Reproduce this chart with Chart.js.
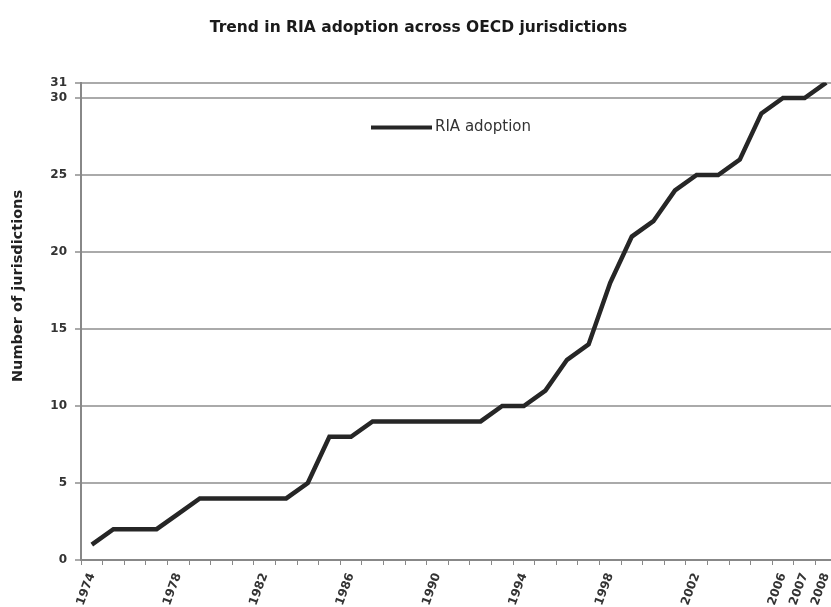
<!DOCTYPE html>
<html>
<head>
<meta charset="utf-8">
<script src="https://cdn.jsdelivr.net/npm/chart.js@4"></script>
<style>
  html, body { margin: 0; padding: 0; background: #fff; overflow: hidden; }
  /* the original picture is cut off on the right, so the canvas is a bit wider than the window */
  #wrap { width: 831px; height: 607px; overflow: hidden; }
</style>
</head>
<body>
<div id="wrap"><canvas id="lineChart" width="837" height="607"></canvas></div>
<script>
// Years on the x axis
var years = [1974, 1975, 1976, 1977, 1978, 1979, 1980, 1981, 1982, 1983,
             1984, 1985, 1986, 1987, 1988, 1989, 1990, 1991, 1992, 1993,
             1994, 1995, 1996, 1997, 1998, 1999, 2000, 2001, 2002, 2003,
             2004, 2005, 2006, 2007, 2008];

// Number of jurisdictions with RIA
var riaAdoption = [1, 2, 2, 2, 3, 4, 4, 4, 4, 4,
                   5, 8, 8, 9, 9, 9, 9, 9, 9, 10,
                   10, 11, 13, 14, 18, 21, 22, 24, 25, 25,
                   26, 29, 30, 30, 31];

// Only these years get a label
var shownYears = [1974, 1978, 1982, 1986, 1990, 1994, 1998, 2002, 2006, 2007, 2008];
var yTicks = [0, 5, 10, 15, 20, 25, 30, 31];

var yTitle = 'Number of jurisdictions';

// legend sits inside the plot area, y title is drawn by hand
var extras = {
    id: 'extras',
    afterDraw: function (chart) {
        var ctx = chart.ctx;
        var ds = chart.data.datasets[0];
        var a = chart.chartArea;
        ctx.save();
        // legend
        ctx.strokeStyle = ds.borderColor;
        ctx.lineWidth = 4;
        ctx.beginPath();
        ctx.moveTo(a.left + 290, a.top + 45);
        ctx.lineTo(a.left + 351, a.top + 45);
        ctx.stroke();
        ctx.fillStyle = '#333';
        ctx.font = '15px "DejaVu Sans"';
        ctx.textBaseline = 'middle';
        ctx.fillText(ds.label, a.left + 354, a.top + 45);
        // y title
        ctx.translate(18, 286);
        ctx.rotate(-Math.PI / 2);
        ctx.textAlign = 'center';
        ctx.font = 'bold 14.5px "DejaVu Sans"';
        ctx.fillStyle = '#222';
        ctx.fillText(yTitle, 0, 0);
        ctx.restore();
    }
};

var ctx = document.getElementById('lineChart').getContext('2d');

new Chart(ctx, {
    type: 'line',
    data: {
        labels: years,
        datasets: [{
            label: 'RIA adoption',
            data: riaAdoption,
            borderColor: '#262626',
            borderWidth: 4.5,
            pointRadius: 0,
            tension: 0,
            fill: false
        }]
    },
    options: {
        responsive: false,
        animation: false,
        layout: { padding: 0 },
        plugins: {
            legend: { display: false },
            tooltip: { enabled: false },
            title: {
                display: true,
                text: 'Trend in RIA adoption across OECD jurisdictions',
                color: '#1a1a1a',
                font: { family: 'DejaVu Sans', size: 15.5, weight: 'bold' },
                padding: { top: 19, bottom: 45 }
            }
        },
        scales: {
            x: {
                offset: true,
                afterFit: function (scale) {
                    scale.height = 47;
                    scale.paddingRight = 0;
                    scale.paddingLeft = 0;
                },
                border: { color: '#888', width: 2 },
                grid: {
                    offset: true,
                    drawOnChartArea: false,
                    tickLength: 5,
                    color: '#888',
                    lineWidth: 1
                },
                ticks: {
                    autoSkip: false,
                    minRotation: 70,
                    maxRotation: 70,
                    padding: 6,
                    color: '#333',
                    font: { family: 'DejaVu Sans', size: 12, weight: 'bold' },
                    callback: function (value) {
                        var yr = years[value];
                        return shownYears.indexOf(yr) >= 0 ? String(yr) : '';
                    }
                }
            },
            y: {
                min: 0,
                max: 31,
                afterFit: function (scale) { scale.width = 81; },
                afterBuildTicks: function (scale) {
                    scale.ticks = yTicks.map(function (v) { return { value: v }; });
                },
                border: { color: '#888', width: 2 },
                grid: {
                    color: '#aaa',
                    lineWidth: 2,
                    tickLength: 6
                },
                ticks: {
                    padding: 8,
                    color: '#333',
                    font: { family: 'DejaVu Sans', size: 12, weight: 'bold' }
                }
            }
        }
    },
    plugins: [extras]
});
</script>
</body>
</html>
